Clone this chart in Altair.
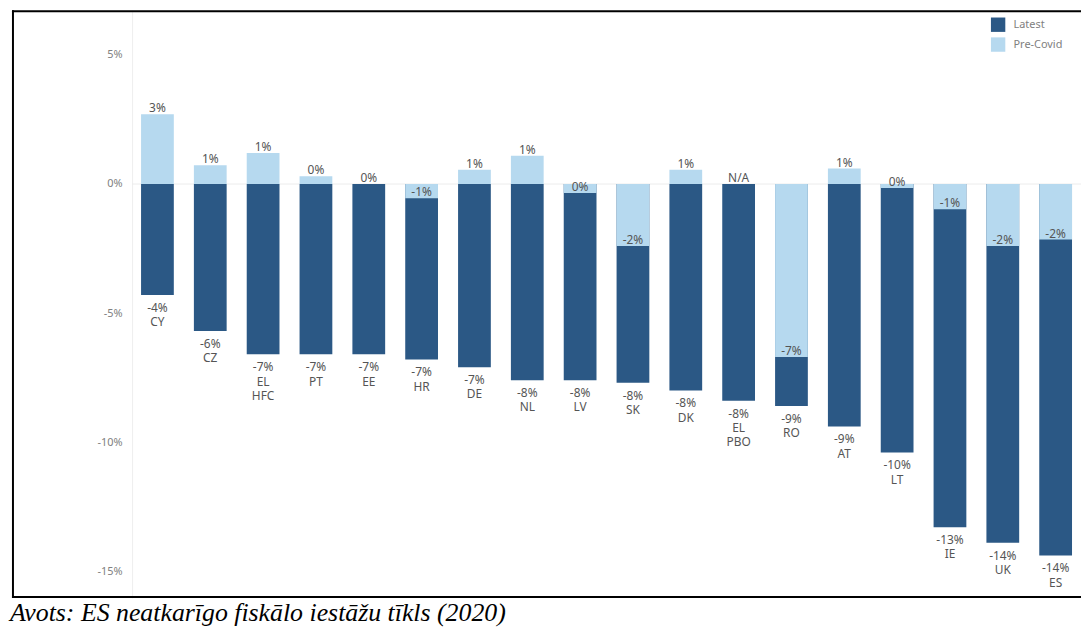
import altair as alt
import pandas as pd

# ---- data ----
countries = ["CY", "CZ", "EL HFC", "PT", "EE", "HR", "DE", "NL", "LV", "SK",
             "DK", "EL PBO", "RO", "AT", "LT", "IE", "UK", "ES"]
latest = [-4.3, -5.7, -6.6, -6.6, -6.6, -6.8, -7.1, -7.6, -7.6, -7.7,
          -8.0, -8.4, -8.6, -9.4, -10.4, -13.3, -13.9, -14.4]
pre_covid = [2.7, 0.73, 1.2, 0.3, 0.0, -0.55, 0.55, 1.1, -0.35, -2.4,
             0.55, None, -6.7, 0.6, -0.15, -0.98, -2.4, -2.15]
series_names = ["Latest", "Pre-Covid"]
y_ticks = [5, 0, -5, -10, -15]
caption = "Avots: ES neatkarīgo fiskālo iestāžu tīkls (2020)"

DARK = "#2b5885"
LIGHT = "#b6d9ef"
FONT = "Noto Sans"


def pct(v):
    return "N/A" if v is None else f"{int(round(v))}%"


rows = []
for c, v in zip(countries, latest):
    rows.append({"key": c, "series": "Latest", "value": v,
                 "pos": v, "label": pct(v) + "\n" + c.replace(" ", "\n")})
for c, v in zip(countries, pre_covid):
    rows.append({"key": c, "series": "Pre-Covid", "value": v,
                 "pos": 0 if v is None else v, "label": pct(v)})
df = pd.DataFrame(rows)

yscale = alt.Scale(domain=[-16.04, 6.731], nice=False, zero=False)
xenc = alt.X("key:N", sort=countries, axis=None,
             scale=alt.Scale(paddingInner=0.38, paddingOuter=0.17))

zero = alt.Chart(pd.DataFrame({"v": [0]})).mark_rule(
    color="#ececec", strokeWidth=1).encode(y=alt.Y("v:Q", scale=yscale))

bars = alt.Chart(df).mark_bar().encode(
    x=xenc,
    y=alt.Y("value:Q", scale=yscale,
            axis=alt.Axis(values=y_ticks, labelExpr="datum.value + '%'",
                          title=None, ticks=False, grid=False,
                          domainColor="#eeeeee", labelColor="#808080",
                          labelFontSize=11, labelPadding=10, labelFont=FONT)),
    y2=alt.datum(0),
    color=alt.Color("series:N",
                    scale=alt.Scale(domain=series_names, range=[DARK, LIGHT]),
                    legend=alt.Legend(orient="none", legendX=865, legendY=7,
                                      title=None, symbolType="square",
                                      symbolSize=210, symbolStrokeWidth=0,
                                      symbolOpacity=1, labelFontSize=11,
                                      labelColor="#808080", labelFont=FONT,
                                      labelOffset=8, rowPadding=5)),
)

pre_labels = alt.Chart(df).transform_filter(
    alt.datum.series == "Pre-Covid").mark_text(
    baseline="alphabetic", dy=-2, fontSize=12, color="#555555", font=FONT
).encode(x=xenc, y=alt.Y("pos:Q", scale=yscale), text="label:N")

latest_labels = alt.Chart(df).transform_filter(
    alt.datum.series == "Latest").mark_text(
    baseline="top", dy=8, fontSize=12, color="#555555", font=FONT,
    lineBreak="\n", lineHeight=14.5
).encode(x=xenc, y=alt.Y("pos:Q", scale=yscale), text="label:N")

one = pd.DataFrame({"a": [1]})
frame_top = alt.Chart(one).mark_rule(color="black", strokeWidth=2).encode(
    x=alt.value(-121), x2=alt.value(960), y=alt.value(1))
frame_left = alt.Chart(one).mark_rule(color="black", strokeWidth=2).encode(
    x=alt.value(-120), y=alt.value(0), y2=alt.value(592))
frame_bottom = alt.Chart(one).mark_rule(color="black", strokeWidth=2).encode(
    x=alt.value(-121), x2=alt.value(960), y=alt.value(591))

cap = alt.Chart(pd.DataFrame({"t": [caption]})).mark_text(
    align="left", baseline="alphabetic", fontSize=26, fontStyle="italic",
    font="Liberation Serif", color="black"
).encode(x=alt.value(-123), y=alt.value(615), text="t:N")

chart = alt.layer(zero, bars, pre_labels, latest_labels,
                  frame_top, frame_left, frame_bottom, cap).properties(
    width=956, height=592,
    autosize=alt.AutoSizeParams(type="none"),
    padding={"left": 125, "top": 0, "right": 0, "bottom": 34},
    background="white",
).configure_view(stroke=None)

chart.save("out.html", embed_options={"renderer": "svg", "actions": False})
